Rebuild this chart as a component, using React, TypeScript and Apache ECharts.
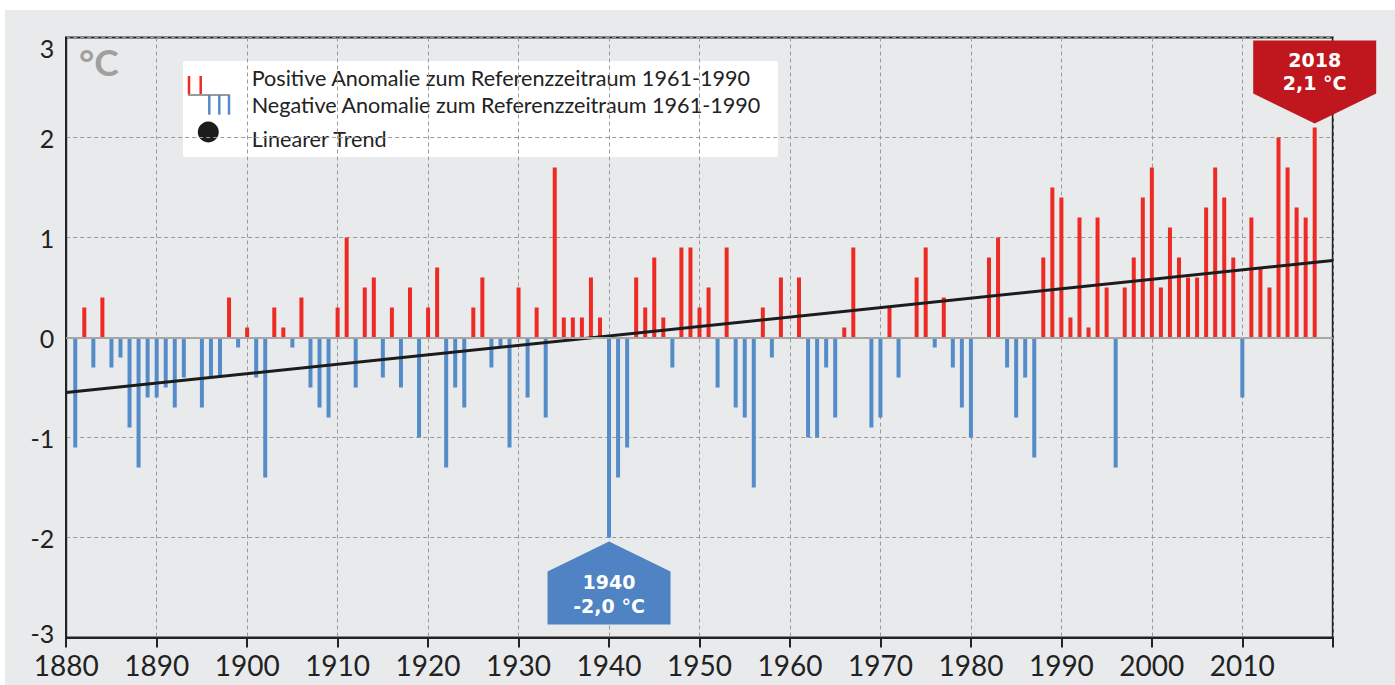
import React, { useEffect, useRef } from "react";
import * as echarts from "echarts";

// Temperature anomaly (°C) relative to reference period 1961-1990, years 1881-2018
const START_YEAR = 1881;
const anomalies1880s = [-1.1, 0.3, -0.3, 0.4, -0.3, -0.2, -0.9, -1.3, -0.6]; // 1881-1889
const anomalies1890s = [-0.6, -0.5, -0.7, -0.4, 0.0, -0.7, -0.4, -0.4, 0.4, -0.1];
const anomalies1900s = [0.1, -0.4, -1.4, 0.3, 0.1, -0.1, 0.4, -0.5, -0.7, -0.8];
const anomalies1910s = [0.3, 1.0, -0.5, 0.5, 0.6, -0.4, 0.3, -0.5, 0.5, -1.0];
const anomalies1920s = [0.3, 0.7, -1.3, -0.5, -0.7, 0.3, 0.6, -0.3, -0.1, -1.1];
const anomalies1930s = [0.5, -0.6, 0.3, -0.8, 1.7, 0.2, 0.2, 0.2, 0.6, 0.2];
const anomalies1940s = [-2.0, -1.4, -1.1, 0.6, 0.3, 0.8, 0.2, -0.3, 0.9, 0.9];
const anomalies1950s = [0.3, 0.5, -0.5, 0.9, -0.7, -0.8, -1.5, 0.3, -0.2, 0.6];
const anomalies1960s = [0.0, 0.6, -1.0, -1.0, -0.3, -0.8, 0.1, 0.9, 0.0, -0.9];
const anomalies1970s = [-0.8, 0.3, -0.4, 0.0, 0.6, 0.9, -0.1, 0.4, -0.3, -0.7];
const anomalies1980s = [-1.0, 0.0, 0.8, 1.0, -0.3, -0.8, -0.4, -1.2, 0.8, 1.5];
const anomalies1990s = [1.4, 0.2, 1.2, 0.1, 1.2, 0.5, -1.3, 0.5, 0.8, 1.4];
const anomalies2000s = [1.7, 0.5, 1.1, 0.8, 0.6, 0.6, 1.3, 1.7, 1.4, 0.8];
const anomalies2010s = [-0.6, 1.2, 0.7, 0.5, 2.0, 1.7, 1.3, 1.2, 2.1]; // 2010-2018

// Linear trend (at the plot edges)
const trendYears = [1880, 2020];
const trendValues = [-0.55, 0.77];

// Highlighted years
const calloutYears = [1940, 2018];

// Legend texts
const legendTexts = [
  "Positive Anomalie zum Referenzzeitraum 1961-1990",
  "Negative Anomalie zum Referenzzeitraum 1961-1990",
  "Linearer Trend",
];

const RED = "#ee2a24";
const BLUE = "#548cca";
const RED_CALLOUT = "#c0171e";
const BLUE_CALLOUT = "#4f83c3";
const FONT = "Lato";

const allAnomalies = [
  ...anomalies1880s, ...anomalies1890s, ...anomalies1900s, ...anomalies1910s,
  ...anomalies1920s, ...anomalies1930s, ...anomalies1940s, ...anomalies1950s,
  ...anomalies1960s, ...anomalies1970s, ...anomalies1980s, ...anomalies1990s,
  ...anomalies2000s, ...anomalies2010s,
];
const barData = allAnomalies.map((v, i) => [START_YEAR + i, v]);

export default function App() {
  const ref = useRef<HTMLDivElement>(null);
  useEffect(() => {
    if (!ref.current) return;
    const chart = echarts.init(ref.current, null, { renderer: "svg" });
    const calloutData = calloutYears.map((y) => [y, allAnomalies[y - START_YEAR]]);

    const option: any = {
      animation: false,
      backgroundColor: "#e9eaec",
      textStyle: { fontFamily: FONT },
      grid: {
        left: 61.2,
        top: 27.5,
        width: 1266.6,
        height: 600,
        show: true,
        borderColor: "#222",
        borderWidth: 2,
        backgroundColor: "transparent",
      },
      xAxis: {
        type: "value",
        min: 1880,
        max: 2020,
        interval: 10,
        axisLine: { show: true, onZero: false, lineStyle: { color: "#222", width: 2 } },
        axisTick: { show: true, length: 10, lineStyle: { color: "#222", width: 2 } },
        axisLabel: {
          fontSize: 28,
          fontFamily: FONT,
          color: "#222",
          margin: 13,
          formatter: (v: number) => (v === 2020 ? "" : String(v)),
        },
        splitLine: { show: true, lineStyle: { color: "#9a9a9a", type: [4, 3], width: 1 } },
      },
      yAxis: {
        type: "value",
        min: -3,
        max: 3,
        interval: 1,
        axisLine: { show: true, lineStyle: { color: "#222", width: 2 } },
        axisTick: { show: false },
        axisLabel: {
          fontSize: 25,
          fontFamily: FONT,
          color: "#222",
          margin: 12,
          formatter: (v: number) =>
            v === 3 ? "{t|" + v + "}" : v === -3 ? "{b|" + v + "}" : "{n|" + v + "}",
          rich: {
            n: { fontSize: 25, fontFamily: FONT, color: "#222" },
            t: { fontSize: 25, fontFamily: FONT, color: "#222", padding: [20, 0, 0, 0] },
            b: { fontSize: 25, fontFamily: FONT, color: "#222", padding: [0, 0, 10, 0] },
          },
        },
        splitLine: { show: true, lineStyle: { color: "#9a9a9a", type: [4, 3], width: 1 } },
      },
      series: [
        {
          type: "bar",
          name: "Anomalie",
          data: barData,
          barWidth: 4,
          z: 2,
          itemStyle: {
            color: (p: any) => (p.value[1] >= 0 ? RED : BLUE),
          },
          markLine: {
            silent: true,
            symbol: "none",
            label: { show: false },
            lineStyle: { color: "#a6a6a6", width: 2, type: "solid" },
            data: [{ yAxis: 0 }],
          },
        },
        {
          type: "line",
          name: "Linearer Trend",
          data: trendYears.map((y, i) => [y, trendValues[i]]),
          showSymbol: false,
          symbol: "none",
          z: 4,
          lineStyle: { color: "#1c1c1c", width: 3 },
        },
        {
          type: "custom",
          name: "callouts",
          clip: false,
          z: 5,
          data: calloutData,
          renderItem: (params: any, api: any) => {
            const year = api.value(0);
            const val = api.value(1);
            const p = api.coord([year, val]);
            const up = val > 0;
            const dir = up ? -1 : 1;
            const hw = 61.5;
            const tipY = p[1] + dir * 4;
            const shoulderY = tipY + dir * 30;
            const endY = tipY + dir * 83;
            const cx = p[0];
            const color = up ? RED_CALLOUT : BLUE_CALLOUT;
            const y1 = up ? tipY - 63.6 : tipY + 40.6;
            const y2 = up ? tipY - 40.3 : tipY + 64;
            const label2 = val.toFixed(1).replace(".", ",") + " °C";
            const textStyle = {
              fill: "#fff",
              fontSize: 19,
              fontWeight: "bold",
              fontFamily: "DejaVu Sans",
              align: "center",
              verticalAlign: "middle",
            };
            return {
              type: "group",
              children: [
                {
                  type: "polygon",
                  shape: {
                    points: [
                      [cx, tipY],
                      [cx + hw, shoulderY],
                      [cx + hw, endY],
                      [cx - hw, endY],
                      [cx - hw, shoulderY],
                    ],
                  },
                  style: { fill: color },
                },
                { type: "text", style: { ...textStyle, text: String(year), x: cx, y: y1 } },
                { type: "text", style: { ...textStyle, text: label2, x: cx, y: y2 } },
              ],
            };
          },
        },
      ],
      graphic: [
        {
          type: "text",
          left: 74,
          top: 33,
          style: { text: "°C", fill: "#a0a0a0", fontSize: 37, fontWeight: "bold", fontFamily: FONT },
          z: 10,
        },
        {
          type: "group",
          z: 10,
          children: [
            { type: "rect", shape: { x: 178, y: 51, width: 595, height: 96, r: 2 }, style: { fill: "#fff" } },
            { type: "line", shape: { x1: 184, y1: 66, x2: 184, y2: 85 }, style: { stroke: RED, lineWidth: 2.5 } },
            { type: "line", shape: { x1: 195.7, y1: 66, x2: 195.7, y2: 85 }, style: { stroke: RED, lineWidth: 2.5 } },
            { type: "line", shape: { x1: 183, y1: 85, x2: 225, y2: 85 }, style: { stroke: "#9a9a9a", lineWidth: 2 } },
            { type: "line", shape: { x1: 204.3, y1: 85, x2: 204.3, y2: 104.7 }, style: { stroke: BLUE, lineWidth: 2.5 } },
            { type: "line", shape: { x1: 214.3, y1: 85, x2: 214.3, y2: 104.7 }, style: { stroke: BLUE, lineWidth: 2.5 } },
            { type: "line", shape: { x1: 224, y1: 85, x2: 224, y2: 104.7 }, style: { stroke: BLUE, lineWidth: 2.5 } },
            { type: "circle", shape: { cx: 203.3, cy: 122, r: 10.5 }, style: { fill: "#1c1c1c" } },
            ...legendTexts.map((t, i) => ({
              type: "text",
              x: 246.7,
              y: [68, 95, 129][i],
              style: {
                text: t,
                fill: "#222",
                fontSize: 21.6,
                fontFamily: FONT,
                verticalAlign: "middle",
                align: "left",
              },
            })),
          ],
        },
      ],
    };
    chart.setOption(option);
    return () => chart.dispose();
  }, []);

  return (
    <div style={{ position: "fixed", left: 0, top: 0, width: 1395, height: 685, background: "#fff" }}>
      <div ref={ref} style={{ position: "absolute", left: 5, top: 10, width: 1390, height: 675 }} />
    </div>
  );
}
